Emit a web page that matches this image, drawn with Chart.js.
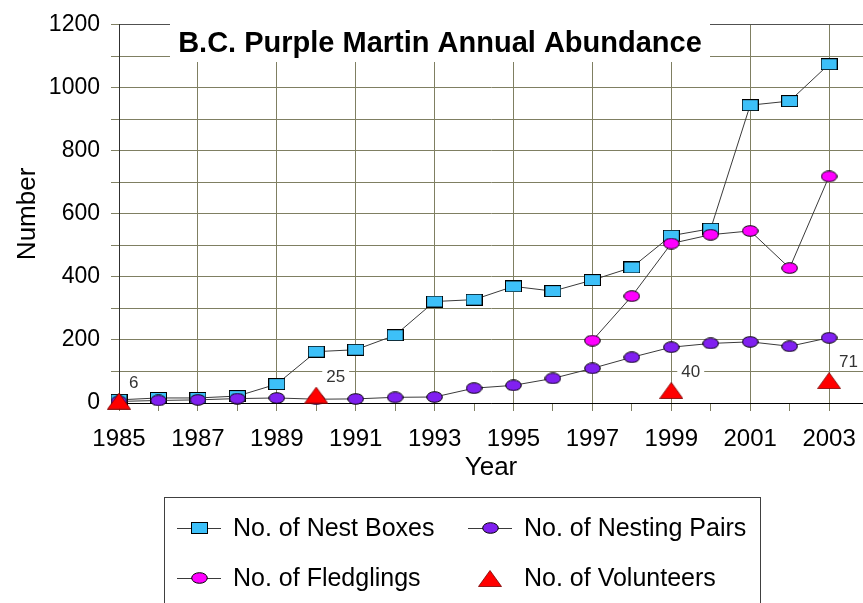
<!DOCTYPE html>
<html><head><meta charset="utf-8">
<script src="https://cdn.jsdelivr.net/npm/chart.js@4.4.0/dist/chart.umd.min.js"></script>
<style>html,body{margin:0;padding:0;background:#fff;}canvas{display:block;}</style>
</head><body>
<canvas id="c" width="863" height="603"></canvas>
<script>
const chartTitle = 'B.C. Purple Martin Annual Abundance';
const years = [1985,1986,1987,1988,1989,1990,1991,1992,1993,1994,1995,1996,1997,1998,1999,2000,2001,2002,2003];
const nestBoxes    = [10,16,16,22,60,163,169,215,322,328,370,355,390,430,531,553,945,958,1075];
const nestingPairs = [5,8,10,14,16,12,13,18,19,47,56,78,110,145,177,189,194,180,207];
const fledglings   = [null,null,null,null,null,null,null,null,null,null,null,null,198,339,506,534,546,428,719];
const volunteerYears = [1985,1990,1999,2003];
const volunteers     = [6,25,40,71];
const xTickYears = [1985,1987,1989,1991,1993,1995,1997,1999,2001,2003];
const yTickValues = [0,200,400,600,800,1000,1200];
const seriesNames = ['No. of Nest Boxes','No. of Nesting Pairs','No. of Fledglings','No. of Volunteers'];

const FONT = "'Liberation Sans', Arial, sans-serif";
const GRID = '#7f7f62';
const LINE = '#3a3a3a';

function makeRect(fill){const c=document.createElement('canvas');c.width=17;c.height=12;const g=c.getContext('2d');g.fillStyle=fill;g.fillRect(0.5,0.5,16,11);g.strokeStyle='#000';g.lineWidth=1;g.strokeRect(0.5,0.5,16,11);return c;}
function makeEllipse(fill){const c=document.createElement('canvas');c.width=17;c.height=12;const g=c.getContext('2d');g.beginPath();g.ellipse(8.5,6,7.8,5.3,0,0,Math.PI*2);g.fillStyle=fill;g.fill();g.strokeStyle='#000';g.lineWidth=1;g.stroke();return c;}
function makeTri(fill){const c=document.createElement('canvas');c.width=24;c.height=17;const g=c.getContext('2d');g.beginPath();g.moveTo(12,0.5);g.lineTo(23.5,16.5);g.lineTo(0.5,16.5);g.closePath();g.fillStyle=fill;g.fill();g.strokeStyle='#700';g.lineWidth=0.8;g.stroke();return c;}

const mBox = makeRect('#3dc0f8');
const mPair = makeEllipse('#8020f0');
const mFled = makeEllipse('#ff00ff');
const mVol = makeTri('#ff0000');

const toXY = (xs, ys) => xs.map((x,i)=>({x, y: ys[i]}));

const titlePlugin = {
  id:'boxTitle',
  beforeDatasetsDraw(chart){
    const ctx = chart.ctx; ctx.save();
    ctx.fillStyle='#fff'; ctx.fillRect(170,22,540,40);
    ctx.font = 'bold 29px '+FONT; ctx.fillStyle='#000'; ctx.textAlign='center'; ctx.textBaseline='middle';
    ctx.fillText(chartTitle, 440, 44);
    const meta = chart.getDatasetMeta(3);
    ctx.font = '17px '+FONT; ctx.textAlign='left';
    meta.data.forEach((pt,i)=>{
      const t = String(volunteers[i]); const w = ctx.measureText(t).width;
      const x = pt.x+10, y = pt.y-18;
      ctx.fillStyle='#fff'; ctx.fillRect(x-4,y-8,w+8,16);
      ctx.fillStyle='#333'; ctx.fillText(t,x,y);
    });
    ctx.restore();
  }
};

const legendPlugin = {
  id:'boxLegend',
  afterDraw(chart){
    const ctx = chart.ctx; ctx.save();
    ctx.strokeStyle='#404040'; ctx.lineWidth=1;
    ctx.strokeRect(164.5,497.5,596,120);
    const items = [
      {ds:0, mk:mBox, x:177, y:528, line:true},
      {ds:1, mk:mPair, x:468, y:528, line:true},
      {ds:2, mk:mFled, x:177, y:578, line:true},
      {ds:3, mk:mVol, x:468, y:578, line:false}
    ];
    items.forEach(it=>{
      if(it.line){ctx.strokeStyle=LINE;ctx.beginPath();ctx.moveTo(it.x,it.y+0.5);ctx.lineTo(it.x+44,it.y+0.5);ctx.stroke();}
      ctx.drawImage(it.mk, Math.round(it.x+22-it.mk.width/2), Math.round(it.y-it.mk.height/2));
      ctx.font='25px '+FONT; ctx.fillStyle='#000'; ctx.textAlign='left'; ctx.textBaseline='middle';
      ctx.fillText(chart.data.datasets[it.ds].label, it.x+56, it.y+1);
    });
    ctx.restore();
  }
};

new Chart(document.getElementById('c'), {
  type:'line',
  data:{
    datasets:[
      {label:seriesNames[0], data:toXY(years,nestBoxes), borderColor:LINE, borderWidth:1, pointStyle:mBox, pointRadius:8, order:4, clip:false},
      {label:seriesNames[1], data:toXY(years,nestingPairs), borderColor:LINE, borderWidth:1, pointStyle:mPair, pointRadius:8, order:2, clip:false},
      {label:seriesNames[2], data:toXY(years,fledglings), borderColor:LINE, borderWidth:1, pointStyle:mFled, pointRadius:8, order:3, clip:false, spanGaps:false},
      {label:seriesNames[3], data:toXY(volunteerYears,volunteers), showLine:false, pointStyle:mVol, pointRadius:8, order:1, clip:false}
    ]
  },
  options:{
    responsive:false, animation:false, events:[],
    layout:{autoPadding:false, padding:{top:21,right:0,bottom:120,left:0}},
    plugins:{legend:{display:false}, tooltip:{enabled:false}, title:{display:false}},
    scales:{
      x:{
        type:'linear', min:1985, max:2003.86,
        afterBuildTicks(s){ s.ticks = years.map(v=>({value:v})); },
        afterFit(s){ s.height = 80; s.paddingLeft = 0; s.paddingRight = 0; },
        ticks:{autoSkip:false, maxRotation:0, padding:14, color:'#000', font:{family:FONT, size:24},
          callback:(v)=> xTickYears.includes(v) ? String(v) : ''},
        grid:{drawOnChartArea:true, tickLength:8, color:(c)=> (c.tick && xTickYears.includes(c.tick.value)) ? GRID : 'rgba(0,0,0,0)', tickColor:GRID, lineWidth:1},
        border:{color:'#000', width:1},
        title:{display:true, text:'Year', color:'#000', font:{family:FONT, size:26}, padding:{top:0,bottom:0}}
      },
      y:{
        min:0, max:1200,
        afterBuildTicks(s){ const t=[]; for(let v=0; v<=1200; v+=100) t.push({value:v}); s.ticks=t; },
        afterFit(s){ s.width = 119; },
        ticks:{padding:11, color:'#000', font:{family:FONT, size:23},
          callback:(v)=> yTickValues.includes(v) ? String(v) : ''},
        grid:{tickLength:8, color:(c)=> (c.tick && c.tick.value===1200) ? '#505050' : GRID, tickColor:GRID, lineWidth:1},
        border:{color:'#303030', width:1},
        title:{display:true, text:'Number', color:'#000', font:{family:FONT, size:26}, padding:{top:12,bottom:0}}
      }
    }
  },
  plugins:[titlePlugin, legendPlugin]
});
</script>
</body></html>
